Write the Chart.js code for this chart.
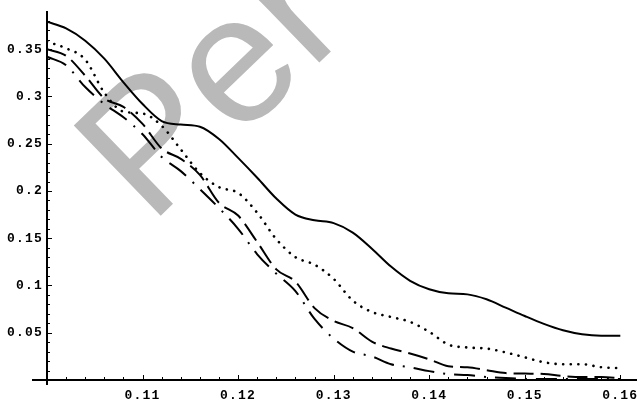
<!DOCTYPE html>
<html>
<head>
<meta charset="utf-8">
<script src="https://cdn.jsdelivr.net/npm/chart.js@4.4.1/dist/chart.umd.min.js"></script>
<style>
  html, body { margin: 0; padding: 0; background: #fff; }
  #wrap { width: 644px; height: 403px; position: relative; }
</style>
</head>
<body>
<div id="wrap"><canvas id="plot"></canvas></div>
<script>
  "use strict";

  // x positions of the sampled points
  const xValues = [
    0.100, 0.102, 0.104, 0.106, 0.108, 0.110, 0.112, 0.114, 0.116, 0.118,
    0.120, 0.122, 0.124, 0.126, 0.128, 0.130, 0.132, 0.134, 0.136, 0.138,
    0.140, 0.142, 0.144, 0.146, 0.148, 0.150, 0.152, 0.154, 0.156, 0.158,
    0.160,
  ];

  const solidValues = [
    0.379, 0.372, 0.359, 0.340, 0.315, 0.292, 0.274, 0.2703, 0.268, 0.255,
    0.235, 0.214, 0.192, 0.175, 0.169, 0.166, 0.156, 0.139, 0.120, 0.105,
    0.096, 0.0917, 0.0906, 0.0854, 0.0766, 0.0677, 0.0594, 0.0526, 0.0484, 0.0469,
    0.0469,
  ];

  const dottedValues = [
    0.358, 0.351, 0.339, 0.304, 0.284, 0.282, 0.269, 0.244, 0.219, 0.204,
    0.198, 0.177, 0.149, 0.130, 0.122, 0.107, 0.084, 0.072, 0.0667, 0.0615,
    0.051, 0.0375, 0.0344, 0.0333, 0.0292, 0.024, 0.0188, 0.0167, 0.0167, 0.0135,
    0.0125,
  ];

  const dashedValues = [
    0.350, 0.343, 0.322, 0.298, 0.289, 0.271, 0.245, 0.234, 0.217, 0.1875,
    0.174, 0.146, 0.117, 0.104, 0.076, 0.0625, 0.055, 0.0406, 0.0333, 0.028,
    0.0219, 0.0146, 0.0135, 0.0104, 0.0073, 0.0068, 0.0063, 0.0042, 0.0031, 0.0031,
    0.0021,
  ];

  const dashDotValues = [
    0.342, 0.333, 0.310, 0.292, 0.278, 0.260, 0.236, 0.221, 0.202, 0.182,
    0.160, 0.133, 0.1125, 0.094, 0.0646, 0.0438, 0.030, 0.025, 0.0167, 0.0135,
    0.0094, 0.0063, 0.0052, 0.0031, 0.0021, 0.0012, 0.001, 0.001, 0.001, 0.001,
    0.001,
  ];

  const xTicks = [0.11, 0.12, 0.13, 0.14, 0.15, 0.16];
  const xTickLabels = ["0.11", "0.12", "0.13", "0.14", "0.15", "0.16"];
  const yTicks = [0.05, 0.1, 0.15, 0.2, 0.25, 0.3, 0.35];
  const yTickLabels = ["0.05", "0.1", "0.15", "0.2", "0.25", "0.3", "0.35"];

  const watermarkText = "Per";

  const toPoints = (ys) => xValues.map((x, i) => ({ x: x, y: ys[i] }));

  const tickFont = { family: "'Liberation Mono', 'DejaVu Sans Mono', monospace", size: 13, weight: "bold" };

  // watermark, tick marks and the short axis overhangs
  const axisExtras = {
    id: "axisExtras",
    beforeDraw(chart) {
      chart.ctx.letterSpacing = "1.2px";
    },
    beforeDatasetsDraw(chart) {
      const ctx = chart.ctx;
      ctx.save();
      ctx.letterSpacing = "0px";
      ctx.translate(150, 226);
      ctx.rotate(-44 * Math.PI / 180);
      ctx.fillStyle = "#b9b9b9";
      ctx.font = "182px 'Liberation Sans', Arial, sans-serif";
      ctx.textBaseline = "alphabetic";
      ctx.fillText(watermarkText, 0, 0);
      ctx.restore();
    },
    afterDraw(chart) {
      const ctx = chart.ctx;
      const xs = chart.scales.x;
      const ys = chart.scales.y;
      const area = chart.chartArea;
      ctx.save();
      ctx.strokeStyle = "#000";
      ctx.lineWidth = 1;
      ctx.beginPath();
      for (let i = 1; i <= 30; i++) {
        const px = Math.round(xs.getPixelForValue(0.1 + i * 0.002)) + 0.5;
        const len = i % 5 === 0 ? 5 : 3;
        ctx.moveTo(px, area.bottom);
        ctx.lineTo(px, area.bottom - len);
      }
      for (let i = 1; i <= 38; i++) {
        const py = Math.round(ys.getPixelForValue(i * 0.01)) + 0.5;
        const len = i % 5 === 0 ? 5 : 3;
        ctx.moveTo(area.left, py);
        ctx.lineTo(area.left + len, py);
      }
      ctx.stroke();
      ctx.lineWidth = 2;
      ctx.beginPath();
      ctx.moveTo(area.left - 15, area.bottom);
      ctx.lineTo(area.left, area.bottom);
      ctx.moveTo(area.left, area.bottom);
      ctx.lineTo(area.left, area.bottom + 5);
      ctx.stroke();
      ctx.restore();
    },
  };

  const line = (label, ys, width, dash, cap) => ({
    label: label,
    data: toPoints(ys),
    borderColor: "#000",
    backgroundColor: "#000",
    borderWidth: width,
    borderDash: dash,
    borderCapStyle: cap,
    pointRadius: 0,
    fill: false,
    cubicInterpolationMode: "monotone",
  });

  new Chart(document.getElementById("plot"), {
    type: "line",
    data: {
      datasets: [
        line("solid", solidValues, 2, [], "butt"),
        line("dotted", dottedValues, 2.6, [0.1, 7.5], "round"),
        line("dashed", dashedValues, 2, [20, 7], "butt"),
        line("dashdot", dashDotValues, 2, [21, 9, 2, 9], "butt"),
      ],
    },
    options: {
      responsive: true,
      maintainAspectRatio: false,
      animation: false,
      layout: { padding: { top: 6, right: 3, left: 0, bottom: 0 } },
      plugins: {
        legend: { display: false },
        tooltip: { enabled: false },
      },
      scales: {
        x: {
          type: "linear",
          position: "bottom",
          min: 0.1,
          max: 0.16168,
          afterFit: (s) => { s.height = 23; },
          afterBuildTicks: (s) => { s.ticks = xTicks.map((v) => ({ value: v })); },
          ticks: {
            autoSkip: false,
            maxRotation: 0,
            padding: 8,
            color: "#000",
            font: tickFont,
            callback: (v) => xTickLabels[xTicks.indexOf(v)],
          },
          grid: { display: false, drawTicks: false },
          border: { display: true, color: "#000", width: 2 },
        },
        y: {
          type: "linear",
          position: "left",
          min: 0,
          max: 0.3896,
          afterFit: (s) => { s.width = 47; },
          afterBuildTicks: (s) => { s.ticks = yTicks.map((v) => ({ value: v })); },
          ticks: {
            autoSkip: false,
            padding: 4,
            color: "#000",
            font: tickFont,
            callback: (v) => yTickLabels[yTicks.indexOf(v)],
          },
          grid: { display: false, drawTicks: false },
          border: { display: true, color: "#000", width: 2 },
        },
      },
    },
    plugins: [axisExtras],
  });
</script>
</body>
</html>
